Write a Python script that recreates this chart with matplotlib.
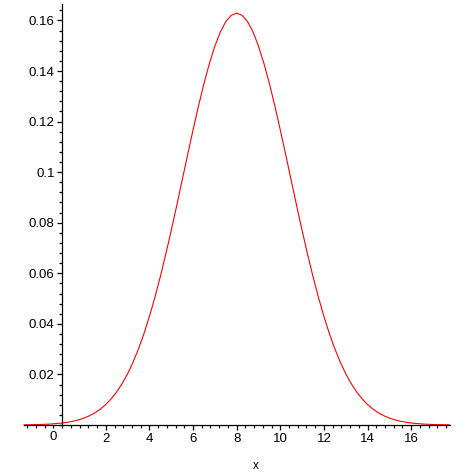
import matplotlib
matplotlib.use("Agg")
import matplotlib.pyplot as plt
from matplotlib.ticker import MultipleLocator

# curve points
x_vals = [-1.75, -1.5, -1.0, -0.5,
          0.0, 0.25, 0.5, 0.75, 1.0, 1.25, 1.5, 1.75, 2.0, 2.25, 2.5, 2.75,
          3.0, 3.25, 3.5, 3.75, 4.0, 4.25, 4.5, 4.75, 5.0, 5.25, 5.5, 5.75,
          6.0, 6.25, 6.5, 6.75, 7.0, 7.25, 7.5, 7.75, 8.0,
          8.25, 8.5, 8.75, 9.0, 9.25, 9.5, 9.75, 10.0, 10.25, 10.5, 10.75,
          11.0, 11.25, 11.5, 11.75, 12.0, 12.25, 12.5, 12.75, 13.0, 13.25,
          13.5, 13.75, 14.0, 14.25, 14.5, 14.75, 15.0, 15.25, 15.5, 15.75,
          16.0, 16.5, 17.0, 17.5, 17.75]
y_vals = [0.00006, 0.00009, 0.00019, 0.00040,
          0.00079, 0.00109, 0.00150, 0.00204, 0.00274, 0.00366, 0.00482,
          0.00628, 0.00811, 0.01036, 0.01309, 0.01638, 0.02028, 0.02485,
          0.03013, 0.03615, 0.04293, 0.05045, 0.05868, 0.06754, 0.07693,
          0.08673, 0.09676, 0.10681, 0.11670, 0.12618, 0.13503, 0.14299,
          0.14985, 0.15541, 0.15952, 0.16202, 0.16287,
          0.16202, 0.15952, 0.15541, 0.14985, 0.14299, 0.13503, 0.12618,
          0.11670, 0.10681, 0.09676, 0.08673, 0.07693, 0.06754, 0.05868,
          0.05045, 0.04293, 0.03615, 0.03013, 0.02485, 0.02028, 0.01638,
          0.01309, 0.01036, 0.00811, 0.00628, 0.00482, 0.00366, 0.00274,
          0.00204, 0.00150, 0.00109, 0.00079, 0.00040, 0.00019, 0.00009,
          0.00006]

x_ticks = [2, 4, 6, 8, 10, 12, 14, 16]
y_ticks = [0.02, 0.04, 0.06, 0.08, 0.1, 0.12, 0.14, 0.16]
y_labels = ["0.02", "0.04", "0.06", "0.08", "0.1", "0.12", "0.14", "0.16"]

plt.rcParams['font.family'] = ['Liberation Sans', 'DejaVu Sans']

fig = plt.figure(figsize=(4.74, 4.74), dpi=100)
ax = fig.add_axes([24 / 474, 49 / 474, 426 / 474, 421 / 474])

ax.plot(x_vals, y_vals, color='#ff0000', lw=0.8, clip_on=False)

ax.set_xlim(-1.75, 17.78)
ax.set_ylim(0, 0.1665)

ax.spines['top'].set_visible(False)
ax.spines['right'].set_visible(False)
ax.spines['left'].set_position(('data', 0))
ax.spines['bottom'].set_position(('data', 0))
ax.spines['left'].set_linewidth(0.9)
ax.spines['bottom'].set_linewidth(0.9)

ax.set_xticks(x_ticks)
ax.set_xticklabels([str(t) for t in x_ticks])
ax.set_yticks(y_ticks)
ax.set_yticklabels(y_labels)
ax.xaxis.set_minor_locator(MultipleLocator(0.4))
ax.yaxis.set_minor_locator(MultipleLocator(0.004))
ax.tick_params(which='both', direction='out', width=0.9, labelsize=9.5)
ax.tick_params(which='major', length=3.5, pad=2)
ax.tick_params(which='minor', length=2.5)

ax.annotate('0', xy=(0, 0), xytext=(-4, -4), textcoords='offset points',
            ha='right', va='top', fontsize=9.5)

fig.text(256 / 474, 8 / 474, 'x', ha='center', va='center', fontsize=8.5)

fig.savefig('out.png', dpi=100)
